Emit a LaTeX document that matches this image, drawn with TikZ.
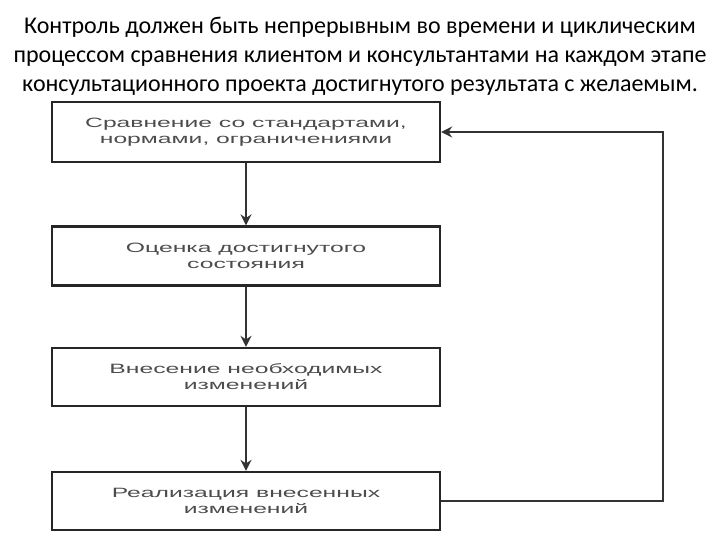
\documentclass[tikz,border=0pt]{standalone}
\usepackage{fontspec}
\usetikzlibrary{arrows.meta}
\setmainfont{Carlito}
\newfontfamily\khoifont[FakeStretch=1.83]{Liberation Sans}
\begin{document}
\begin{tikzpicture}[x=1pt, y=-1pt, >={Stealth[length=11pt, width=11pt]},
    khoi/.style={draw=black!85, line width=2.2pt, minimum width=388pt, minimum height=58pt,
                 inner sep=0pt, align=center, text=black!70,
                 font=\khoifont\fontsize{13.5}{16}\selectfont},
    muiten/.style={->, line width=2pt, black!80}]
    % 1. Khung hình
    \useasboundingbox (0,0) rectangle (720,540);

    % 2. Tiêu đề
    \node[align=center, font=\fontsize{24}{29}\selectfont] (tieude) at (360, 56)
        {Контроль должен быть непрерывным во времени и циклическим\\
         процессом сравнения клиентом и консультантами на каждом этапе\\
         консультационного проекта достигнутого результата с желаемым.};

    % 3. Các khối
    \node[khoi, minimum height=60pt] (sravnenie) at (246, 132) {Сравнение со стандартами,\\нормами, ограничениями};
    \node[khoi, minimum height=59pt] (ocenka) at (246, 256) {Оценка достигнутого\\состояния};
    \node[khoi] (vnesenie) at (246, 377) {Внесение необходимых\\изменений};
    \node[khoi] (realizaciya) at (246, 501) {Реализация внесенных\\изменений};

    % 4. Các mũi tên
    \draw[muiten] (sravnenie) -- (ocenka);
    \draw[muiten] (ocenka) -- (vnesenie);
    \draw[muiten] (vnesenie) -- (realizaciya);

    % 5. Vòng phản hồi
    \coordinate (vong) at (663, 132);
    \draw[muiten] (realizaciya.east) -| (vong) -- (sravnenie.east);
\end{tikzpicture}
\end{document}
